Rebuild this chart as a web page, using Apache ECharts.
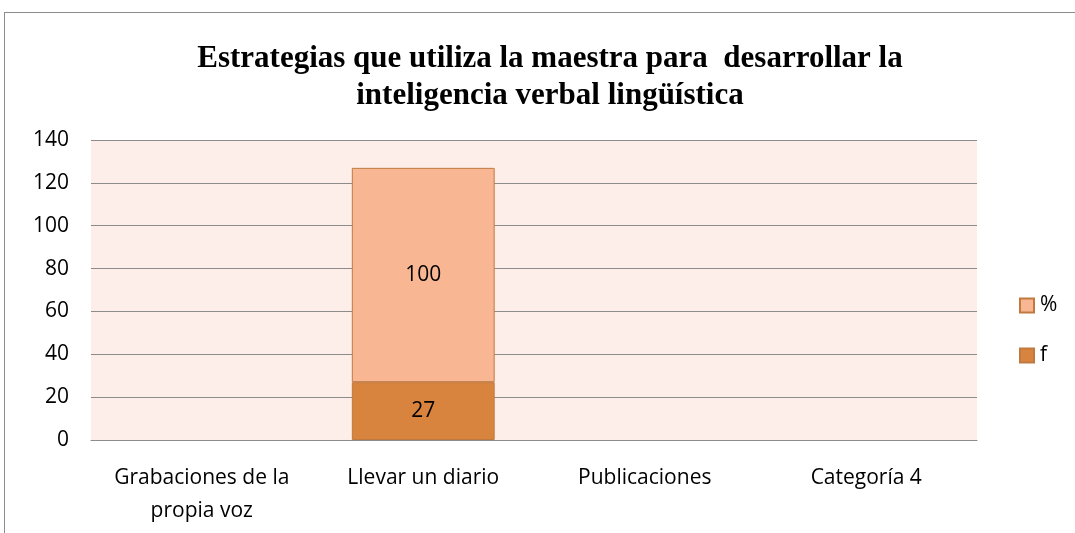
<!DOCTYPE html>
<html>
<head>
<meta charset="utf-8">
<script src="https://cdn.jsdelivr.net/npm/echarts@6/dist/echarts.min.js"></script>
<style>
  html, body { margin: 0; padding: 0; background: #fff; }
  #wrap { position: relative; width: 1075px; height: 533px; overflow: hidden; }
  #frame { position: absolute; left: 4px; top: 12px; width: 1200px; height: 600px; border: 1px solid #8c8c8c; box-sizing: border-box; }
  #chart { position: absolute; left: 0; top: 0; width: 1075px; height: 533px; }
</style>
</head>
<body>
<div id="wrap">
  <div id="frame"></div>
  <div id="chart"></div>
</div>
<script>
const categories = ['Grabaciones de la\npropia voz', 'Llevar un diario', 'Publicaciones', 'Categoría 4']
const fValues = [null, 27, null, null]
const pctValues = [null, 100, null, null]
const yTicks = { min: 0, max: 140, interval: 20 }

const chart = echarts.init(document.getElementById('chart'))

const labelFont = { fontFamily: '"Open Sans", Lato, sans-serif', fontSize: 21, color: '#000' }

chart.setOption({
  animation: false,
  title: {
    text: 'Estrategias que utiliza la maestra para  desarrollar la\ninteligencia verbal lingüística',
    left: 545,
    top: 35,
    textAlign: 'center',
    textStyle: {
      fontFamily: '"Liberation Serif", "DejaVu Serif", serif',
      fontWeight: 'bold',
      fontSize: 31,
      lineHeight: 37,
      color: '#000'
    }
  },
  legend: {
    orient: 'vertical',
    left: 1014,
    top: 290,
    itemWidth: 14,
    itemHeight: 14,
    itemGap: 29,
    icon: 'rect',
    data: ['%', 'f'],
    textStyle: { ...labelFont, padding: [0, 0, 0, 1] }
  },
  grid: {
    left: 91,
    right: 98,
    top: 140,
    bottom: 93,
    show: true,
    backgroundColor: '#fdeeea',
    borderWidth: 0
  },
  xAxis: {
    type: 'category',
    data: categories,
    axisLine: { lineStyle: { color: '#8c8c8c', width: 1 } },
    axisTick: { show: false },
    axisLabel: { ...labelFont, margin: 22, lineHeight: 33, interval: 0 }
  },
  yAxis: {
    type: 'value',
    min: yTicks.min,
    max: yTicks.max,
    interval: yTicks.interval,
    axisLine: { show: false },
    axisTick: { show: false },
    axisLabel: { ...labelFont, margin: 22 },
    splitLine: { lineStyle: { color: '#8c8c8c', width: 1 } }
  },
  series: [
    {
      name: 'f',
      type: 'bar',
      stack: 'total',
      barWidth: '64.5%',
      data: fValues,
      itemStyle: { color: '#d9843e', borderColor: '#c07a40', borderWidth: 1 },
      label: { show: true, position: 'inside', ...labelFont }
    },
    {
      name: '%',
      type: 'bar',
      stack: 'total',
      barWidth: '64.5%',
      data: pctValues,
      itemStyle: { color: '#f9b692', borderColor: '#c07a40', borderWidth: 1 },
      label: { show: true, position: 'inside', ...labelFont }
    }
  ]
})
</script>
</body>
</html>
